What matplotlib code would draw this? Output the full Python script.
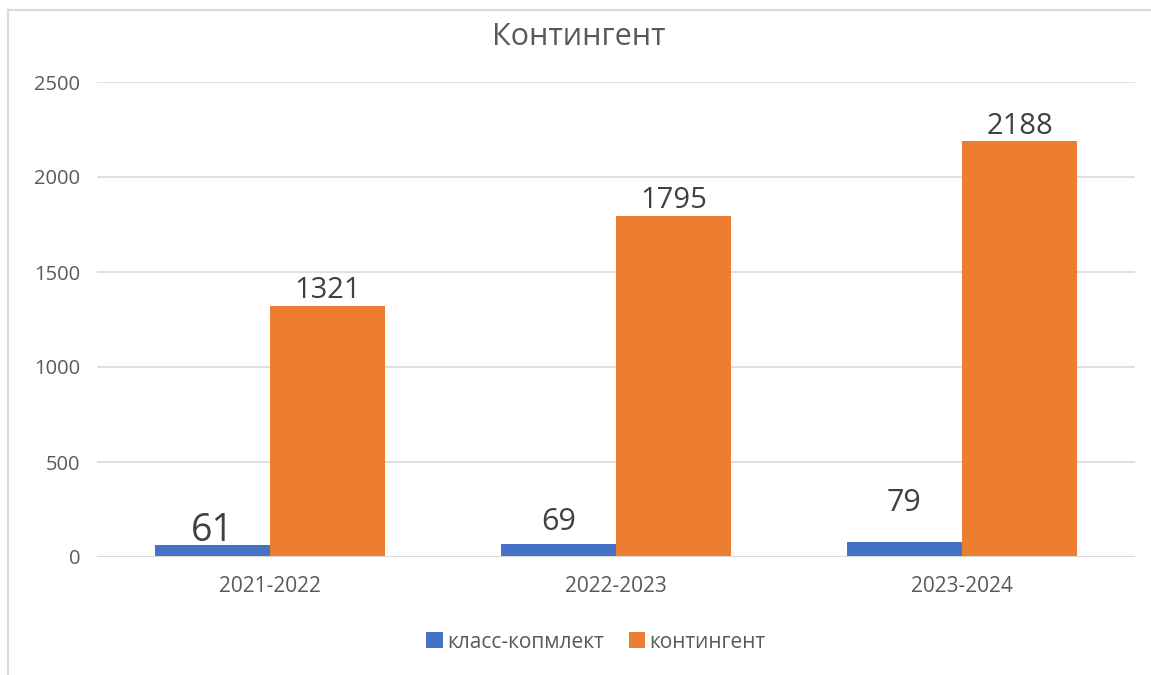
import matplotlib
matplotlib.use("Agg")
import matplotlib.pyplot as plt
import numpy as np
from matplotlib.lines import Line2D

plt.rcParams['font.family'] = ['Open Sans', 'DejaVu Sans']

title = "Контингент"
categories = ["2021-2022", "2022-2023", "2023-2024"]
series_names = ["класс-копмлект", "контингент"]
klass = [61, 69, 79]
kontingent = [1321, 1795, 2188]
yticks = [0, 500, 1000, 1500, 2000, 2500]

blue = "#4472C4"
orange = "#ED7D31"
text_c = "#595959"
grid_c = "#D9D9D9"

fig = plt.figure(figsize=(11.51, 6.75), dpi=100)
ax = fig.add_axes([97/1151, 1-557/675, (1135-97)/1151, (557-82)/675])

x = np.arange(len(categories))
w = 1/3
b1 = ax.bar(x - w/2, klass, width=w, color=blue, label=series_names[0], zorder=3)
b2 = ax.bar(x + w/2, kontingent, width=w, color=orange, label=series_names[1], zorder=3)

ax.set_xlim(-0.5, len(categories) - 0.5)
ax.set_ylim(0, 2500)
ax.set_yticks(yticks)
ax.set_yticklabels([str(t) for t in yticks])
ax.set_xticks(x)
ax.set_xticklabels(categories)
ax.grid(axis='y', color=grid_c, linewidth=1.2, zorder=0)
for s in ax.spines.values():
    s.set_visible(False)
ax.tick_params(axis='both', length=0, colors=text_c, labelsize=14.5)
ax.tick_params(axis='y', pad=12)
ax.tick_params(axis='x', pad=14, labelsize=15)
ax.axhline(0, color=grid_c, linewidth=1.5, zorder=4)

# data labels (offsets in points above bar top, font sizes)
k_sizes = [27, 22, 22]
k_offs = [3, 10, 22]
for xi, v, fs, off in zip(x - w/2, klass, k_sizes, k_offs):
    ax.annotate(str(v), (xi, v), xytext=(0, off), textcoords='offset points',
                ha='center', va='baseline', fontsize=fs, color='#404040')
for xi, v in zip(x + w/2, kontingent):
    ax.annotate(str(v), (xi, v), xytext=(0, 5.5), textcoords='offset points',
                ha='center', va='baseline', fontsize=21, color='#404040')

fig.text(579/1151, 1-45/675, title, ha='center', va='baseline', fontsize=22, color=text_c)

leg = fig.legend(handles=[b1, b2], labels=series_names, loc='center',
                 bbox_to_anchor=(596/1151, 1-642/675), ncol=2, frameon=False,
                 fontsize=15, handlelength=0.8, handleheight=0.8, handletextpad=0.2,
                 columnspacing=1.2)
for t in leg.get_texts():
    t.set_color(text_c)

# chart border (left and top)
fig.add_artist(Line2D([8/1151, 8/1151], [0, 1-10/675], transform=fig.transFigure,
                      color=grid_c, linewidth=1.5))
fig.add_artist(Line2D([8/1151, 1], [1-10/675, 1-10/675], transform=fig.transFigure,
                      color=grid_c, linewidth=1.5))

fig.savefig("out.png", dpi=100, facecolor='white')
